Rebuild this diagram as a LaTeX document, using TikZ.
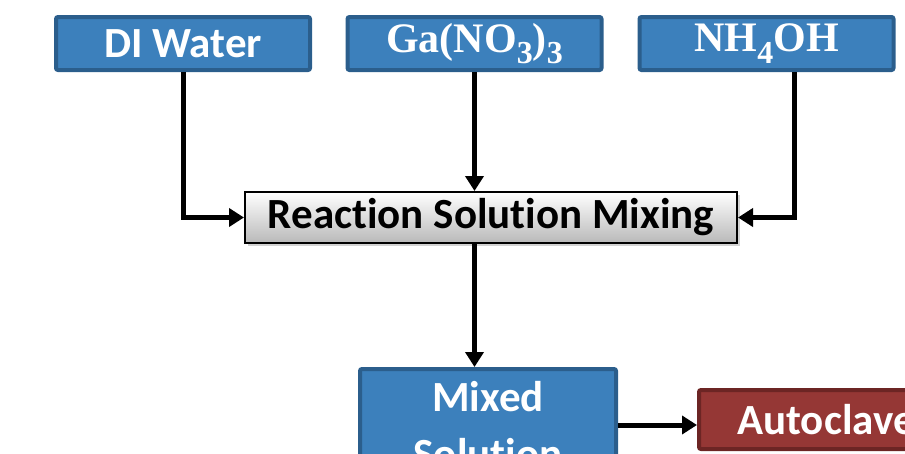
\documentclass[tikz,border=0pt]{standalone}
\usepackage{fontspec}
\setmainfont{Carlito}[Ligatures=NoCommon]
\newfontfamily\chemfont{Liberation Serif}
\usepackage{tikz}
\usetikzlibrary{shapes, arrows.meta, positioning, shadows}

\definecolor{boxblue}{HTML}{3C80BC}
\definecolor{blueedge}{HTML}{2B5E8C}
\definecolor{boxred}{HTML}{953735}
\definecolor{rededge}{HTML}{6C2524}

\newcommand{\chemsub}[1]{\raisebox{-0.6ex}{\fontsize{32}{32}\selectfont #1}}

\tikzset{
  bluebox/.style={draw=blueedge, fill=boxblue, line width=4pt, rounded corners=2pt,
    text=white, font=\fontsize{43}{57}\selectfont\bfseries,
    minimum width=254pt, minimum height=53pt, inner sep=0pt, align=center},
  redbox/.style={bluebox, draw=rededge, fill=boxred},
  mixbox/.style={draw=black, line width=2pt, top color=white, bottom color=gray!55,
    font=\fontsize{43}{50}\selectfont\bfseries, minimum width=492pt, minimum height=51pt,
    inner sep=0pt, drop shadow={shadow xshift=3pt, shadow yshift=-3pt, fill=gray!70}},
  flow/.style={->, line width=5pt},
  >={Triangle[length=15pt,width=18pt]}
}

\begin{document}
\begin{tikzpicture}[x=1pt, y=-1pt]
        % Khung hình
        \useasboundingbox (0,0) rectangle (905,453);
        \clip (0,0) rectangle (905,453);

        % Nguyên liệu đầu vào
        \node[bluebox] (water) at (183,43.5) {DI Water};
        \node[bluebox] (ganit) at (474.5,43.5) {\chemfont\fontsize{42}{50}\selectfont Ga(NO\chemsub{3})\chemsub{3}};
        \node[bluebox] (ammon) at (766.5,43.5) {\chemfont\fontsize{42}{50}\selectfont NH\chemsub{4}OH};

        % Trộn dung dịch
        \node[mixbox] (mixing) at (491,217.5) {Reaction Solution Mixing};

        % Sản phẩm
        \node[bluebox, minimum height=112pt, minimum width=256pt] (mixed) at (488,425) {Mixed\\Solution};
        \node[redbox, minimum height=59pt] (autoclave) at (826,419.5) {Autoclave};

        % Mũi tên
        \draw[flow] (water.south) |- (mixing.west);
        \draw[flow] (ganit.south) -- (ganit.south |- mixing.north);
        \draw[flow] ([xshift=28pt]ammon.south) |- (mixing.east);
        \draw[flow] (ganit.south |- mixing.south) -- (ganit.south |- mixed.north);
        \draw[flow] (mixed.east) -- (mixed.east -| autoclave.west);
      \end{tikzpicture}
\end{document}
